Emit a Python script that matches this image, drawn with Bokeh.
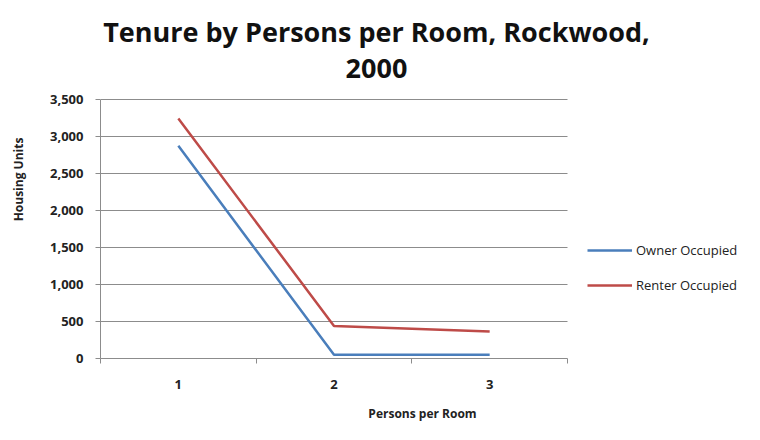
from bokeh.plotting import figure
from bokeh.models import Range1d, FixedTicker, Legend, LegendItem, Label
from bokeh.embed import file_html
from bokeh.resources import INLINE

categories = ["1", "2", "3"]
owner_occupied = [2880, 50, 50]
renter_occupied = [3250, 440, 365]
y_ticks = [0, 500, 1000, 1500, 2000, 2500, 3000, 3500]
title_lines = ["Tenure by Persons per Room, Rockwood,", "2000"]

xs = [i + 1 for i in range(len(categories))]
x_lo, x_hi = 0.5, len(categories) + 0.5
y_lo, y_hi = y_ticks[0], y_ticks[-1]

FONT = "Open Sans"
W, H = 744, 424
LEFT, BOTTOM = 100, 64
PLOT_W, PLOT_H = 467, 260          # visible plotting area in px
FRAME_W, FRAME_H = W - LEFT, H - BOTTOM

# extend the ranges so that the frame also hosts title and legend
x_end = x_lo + (x_hi - x_lo) * FRAME_W / PLOT_W
y_end = y_lo + (y_hi - y_lo) * FRAME_H / PLOT_H

p = figure(width=W, height=H, output_backend="svg", toolbar_location=None,
           x_range=Range1d(x_lo, x_end), y_range=Range1d(y_lo, y_end),
           min_border_left=LEFT, min_border_top=0, min_border_bottom=BOTTOM, min_border_right=0)
p.outline_line_color = None
p.title = None

r1 = p.line(xs, owner_occupied, line_color="#4a7ebb", line_width=2.5)
r2 = p.line(xs, renter_occupied, line_color="#be4b48", line_width=2.5)

AX = "#8c8c8c"
TXT = "#222222"

# x axis
p.xaxis.bounds = (x_lo, x_hi)
p.xaxis.ticker = FixedTicker(ticks=xs, minor_ticks=[x_lo + i for i in range(len(categories) + 1)])
p.xaxis.major_label_overrides = {x: c for x, c in zip(xs, categories)}
p.xaxis.major_tick_out = 0
p.xaxis.major_tick_in = 0
p.xaxis.minor_tick_out = 5
p.xaxis.minor_tick_in = 0
p.xaxis.minor_tick_line_color = AX
p.xaxis.axis_line_color = AX
p.xaxis.major_label_text_font = FONT
p.xaxis.major_label_text_font_size = "13px"
p.xaxis.major_label_text_font_style = "bold"
p.xaxis.major_label_text_color = TXT
p.xaxis.major_label_standoff = 16
p.xaxis.axis_label = "Persons per Room"
p.xaxis.axis_label_text_font = FONT
p.xaxis.axis_label_text_font_size = "12px"
p.xaxis.axis_label_text_font_style = "bold"
p.xaxis.axis_label_text_color = TXT
p.xaxis.axis_label_standoff = 13

# y axis
p.yaxis.bounds = (y_lo, y_hi)
p.yaxis.ticker = FixedTicker(ticks=y_ticks, minor_ticks=[])
p.yaxis.major_label_overrides = {v: f"{v:,}" for v in y_ticks}
p.yaxis.major_tick_out = 5
p.yaxis.major_tick_in = 0
p.yaxis.major_tick_line_color = AX
p.yaxis.axis_line_color = AX
p.yaxis.major_label_text_font = FONT
p.yaxis.major_label_text_font_size = "13px"
p.yaxis.major_label_text_font_style = "bold"
p.yaxis.major_label_text_color = TXT
p.yaxis.major_label_standoff = 12
p.yaxis.axis_label = "Housing Units"
p.yaxis.axis_label_text_font = FONT
p.yaxis.axis_label_text_font_size = "12px"
p.yaxis.axis_label_text_font_style = "bold"
p.yaxis.axis_label_text_color = TXT
p.yaxis.axis_label_standoff = 20

p.xgrid.grid_line_color = None
p.ygrid.ticker = FixedTicker(ticks=y_ticks)
p.ygrid.bounds = (y_lo, y_hi)
p.ygrid.cross_bounds = (x_lo, x_hi)
p.ygrid.grid_line_color = AX
p.ygrid.grid_line_width = 1

# title (two lines, centred on the whole chart)
for line, baseline in zip(title_lines, [33, 70]):
    p.add_layout(Label(x=376 - LEFT, y=FRAME_H - baseline, x_units="screen", y_units="screen",
                       text=line, text_align="center", text_baseline="alphabetic",
                       text_font=FONT, text_font_size="27px", text_font_style="bold",
                       text_color="#111111"))

legend = Legend(items=[LegendItem(label="Owner Occupied", renderers=[r1]),
                       LegendItem(label="Renter Occupied", renderers=[r2])],
                location=(487, 63), border_line_color=None, background_fill_alpha=0,
                label_text_font=FONT, label_text_font_size="13px",
                label_text_color=TXT, glyph_width=45, label_standoff=4,
                spacing=15, padding=0, margin=0)
p.add_layout(legend, "center")

open("out.html", "w").write(file_html(p, INLINE))
